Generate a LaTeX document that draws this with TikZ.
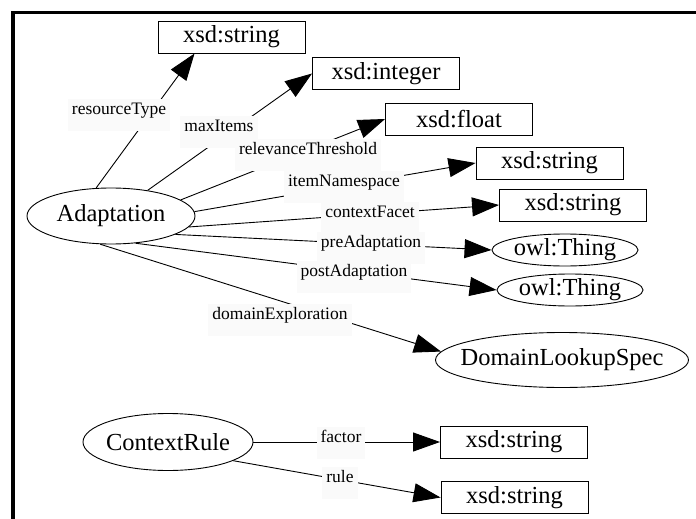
\documentclass[tikz,border=0pt]{standalone}
\usepackage{fontspec}
\setmainfont{Liberation Serif}
\usetikzlibrary{arrows.meta,shapes.geometric}
% keep ellipse sizes independent of the label width
\newcommand{\elltext}[1]{\makebox[0pt]{#1}}
\begin{document}
\begin{tikzpicture}[x=1pt,y=-1pt,
  cls/.style={draw, ellipse, line width=0.9pt, inner sep=0pt,
    font=\fontsize{24.5}{28}\selectfont},
  lit/.style={draw, rectangle, line width=0.9pt, inner sep=0pt,
    minimum width=147pt, minimum height=32pt,
    font=\fontsize{24.5}{28}\selectfont},
  rel/.style={fill=black!2, inner xsep=4pt, inner ysep=5pt,
    text height=10pt, text depth=12pt,
    font=\fontsize{17.5}{20}\selectfont},
  prop/.style={line width=0.9pt, -{Triangle[length=27pt,width=19pt]}}]
\useasboundingbox (0,0) rectangle (696,519);
% frame
\draw[line width=3.5pt] (13,519) -- (13,12.5) -- (696,12.5);

% classes and datatypes
\node[cls, minimum width=168pt, minimum height=56pt] (A) at (111,216) {\elltext{Adaptation}};
\node[lit] (s1) at (231.5,37) {xsd:string};
\node[lit] (int) at (386,73.5) {xsd:integer};
\node[lit] (flt) at (459,119) {xsd:float};
\node[lit] (s2) at (549.5,163) {xsd:string};
\node[lit] (s3) at (573,205) {xsd:string};
\node[cls, minimum width=146pt, minimum height=32pt] (t1) at (565,250) {\elltext{owl:Thing}};
\node[cls, minimum width=146pt, minimum height=32pt] (t2) at (570,290) {\elltext{owl:Thing}};
\node[cls, minimum width=253pt, minimum height=55pt] (D) at (562,360) {\elltext{DomainLookupSpec}};
\node[cls, minimum width=170pt, minimum height=57pt] (CR) at (168,442) {\elltext{ContextRule}};
\node[lit] (fs) at (514,442) {xsd:string};
\node[lit] (rs) at (514.5,497.5) {xsd:string};

% properties
\draw[prop] (A.118) -- (s1.204);
\draw[prop] (A.35) -- (int.west);
\draw[prop] (A.13) -- (flt.west);
\draw[prop] (A.3) -- (s2.west);
\draw[prop] (A.352) -- (s3.west);
\draw[prop] (A.344) -- (t1.west);
\draw[prop] (A.312) -- (t2.west);
\draw[prop] (A.249) -- (D.176);
\draw[prop] (CR.east) -- (fs.west);
\draw[prop] (CR.344) -- (rs.west);

% property labels
\node[rel] (lrt) at (119,115) {resourceType};
\node[rel] (lmi) at (219,132) {maxItems};
\node[rel] (lrth) at (308,155) {relevanceThreshold};
\node[rel] (lin) at (344,187) {itemNamespace};
\node[rel] (lcf) at (370,218) {contextFacet};
\node[rel] (lpre) at (371,248) {preAdaptation};
\node[rel] (lpost) at (354,277) {postAdaptation};
\node[rel] (lde) at (280,320) {domainExploration};
\node[rel] (lfa) at (341,443) {factor};
\node[rel] (lru) at (340,483) {rule};
\end{tikzpicture}
\end{document}
